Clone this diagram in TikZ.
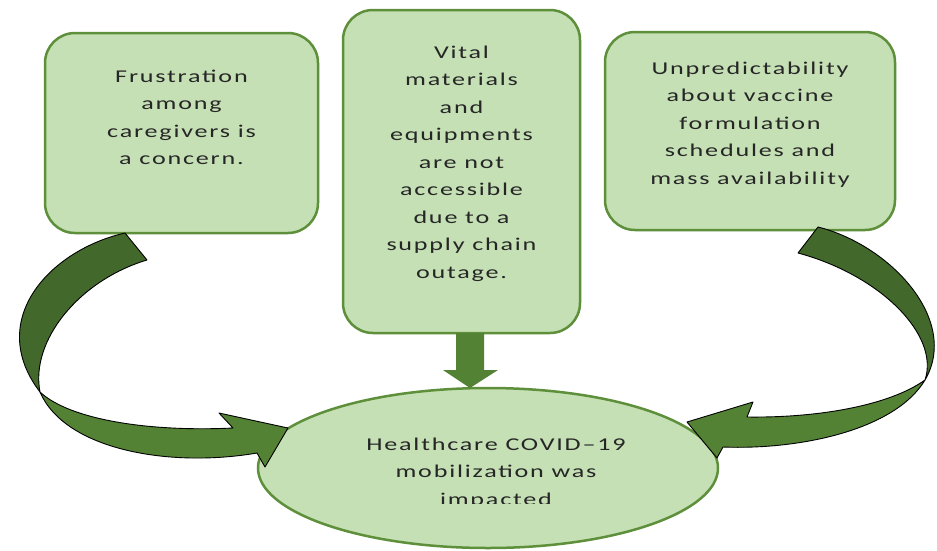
\documentclass[tikz,border=0pt]{standalone}
\usepackage{fontspec}
\setmainfont{Carlito}[FakeStretch=1.45,LetterSpace=10]
\usetikzlibrary{positioning, shapes.geometric}
\definecolor{boxfill}{HTML}{C5E0B4}
\definecolor{boxline}{HTML}{5E8F3A}
\definecolor{arrowlight}{HTML}{548235}
\definecolor{arrowdark}{HTML}{43682B}

\begin{document}
\begin{tikzpicture}[x=1pt, y=-1pt]
    \tikzset{cause/.style={shape = rectangle,
                draw = boxline, fill = boxfill,
                line width = 2.5pt, rounded corners = 30pt},
             effect/.style={shape = ellipse,
                draw = boxline, fill = boxfill,
                line width = 2.5pt, inner sep = 0pt},
             boxtext/.style={font = \fontsize{18}{27.5}\selectfont,
                text = black!85, align = center, inner sep = 0pt},
             twist/.style={draw = black, line width = 0.9pt,
                line join = round}}
    \useasboundingbox (0,0) rectangle (937,550);
    % the three causes
    \node[cause, minimum width = 273pt, minimum height = 200pt] (frust) at (181.5,133) {};
    \node[cause, minimum width = 237pt, minimum height = 323pt] (supply) at (461.5,171.5) {};
    \node[cause, minimum width = 290pt, minimum height = 198pt] (vaccine) at (750,131) {};
    \node[boxtext, below = 38pt of frust.north] (frusttxt)
        {Frustration\\among\\caregivers is\\a concern.};
    \node[boxtext, below = 37pt of supply.north] (supplytxt)
        {Vital\\materials\\and\\equipments\\are not\\accessible\\due to a\\supply chain\\outage.};
    \node[boxtext, below = 31pt of vaccine.north] (vaccinetxt)
        {Unpredictability\\about vaccine\\formulation\\schedules and\\mass availability};
    % the effect
    \node[effect, minimum width = 460pt, minimum height = 160pt] (impact) at (488,468) {};
    \begin{scope}
        \clip (0,0) rectangle (937,503);
        \node[boxtext, below = 51pt of impact.north, xshift = 8pt] (impacttxt)
            {Healthcare COVID--19\\mobilization was\\impacted};
    \end{scope}
    % straight arrow
    \fill[arrowlight] (456,333) -- (456,370) -- (443,370) -- (470,388)
        -- (498,370) -- (484,370) -- (484,333) -- cycle;
    % left curved arrow, back side first
    \filldraw[twist, fill = arrowdark] (125,233)
        .. controls (50,250) and (-15,320) .. (40,392)
        .. controls (30,340) and (80,280) .. (147,260) -- cycle;
    \filldraw[twist, fill = arrowlight] (40,392)
        .. controls (70,420) and (150,432) .. (233,428)
        -- (219,413) -- (288,428) -- (265,467) -- (257,453)
        .. controls (170,468) and (65,450) .. (40,392) -- cycle;
    % right curved arrow, back side first
    \filldraw[twist, fill = arrowdark] (818,227)
        .. controls (890,245) and (960,320) .. (925,380)
        .. controls (940,335) and (880,275) .. (798,253) -- cycle;
    \filldraw[twist, fill = arrowlight] (925,380)
        .. controls (890,405) and (820,418) .. (747,417)
        -- (753,402) -- (687,422) -- (717,458) -- (723,447)
        .. controls (800,450) and (895,430) .. (925,380) -- cycle;
\end{tikzpicture}
\end{document}
